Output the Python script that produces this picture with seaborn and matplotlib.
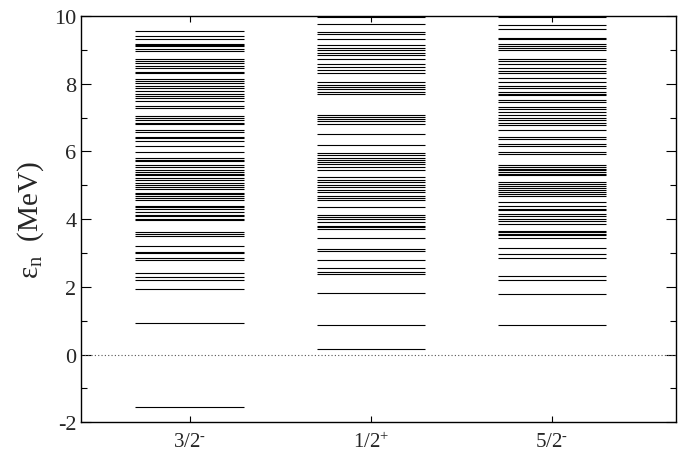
import matplotlib
matplotlib.use('Agg')
import matplotlib.pyplot as plt
import seaborn as sns
import numpy as np
import pandas as pd
from matplotlib.ticker import MultipleLocator

# level energies (MeV), one list per channel
levels_3m = [9.56, 9.41, 9.31, 9.18, 9.15, 9.12, 9.03, 8.97, 8.74, 8.67, 8.60, 8.52, 8.45,
             8.34, 8.31, 8.15, 8.08, 8.03, 7.93, 7.86, 7.78, 7.71, 7.64, 7.57, 7.49, 7.34,
             7.27, 7.04, 6.98, 6.93, 6.84, 6.80, 6.64, 6.56, 6.44, 6.40, 6.31, 6.15, 5.98,
             5.81, 5.76, 5.71, 5.59, 5.54, 5.46, 5.39, 5.34, 5.29, 5.21, 5.16, 5.06, 5.01,
             4.95, 4.90, 4.77, 4.73, 4.69, 4.62, 4.55, 4.40, 4.35, 4.29, 4.21, 4.13, 4.08,
             4.01, 3.96, 3.62, 3.56, 3.49, 3.21, 3.03, 2.99, 2.84, 2.79, 2.42, 2.28, 2.19,
             1.93, 0.93, -1.55]
levels_1p = [9.97, 9.75, 9.54, 9.46, 9.31, 9.13, 9.06, 8.99, 8.92, 8.85, 8.74, 8.57, 8.49,
             8.42, 8.32, 8.06, 7.96, 7.90, 7.83, 7.76, 7.69, 7.09, 7.01, 6.95, 6.90, 6.82,
             6.50, 6.20, 5.95, 5.88, 5.81, 5.75, 5.68, 5.62, 5.54, 5.44, 5.24, 5.17, 5.11,
             5.01, 4.95, 4.87, 4.80, 4.67, 4.62, 4.55, 4.35, 4.13, 4.06, 3.99, 3.91, 3.79,
             3.76, 3.71, 3.44, 3.12, 3.07, 2.80, 2.57, 2.45, 2.37, 1.81, 0.86, 0.16]
levels_5m = [9.97, 9.73, 9.61, 9.36, 9.31, 9.16, 9.11, 9.06, 9.01, 8.74, 8.67, 8.59, 8.47,
             8.39, 8.32, 8.16, 8.06, 7.93, 7.86, 7.75, 7.70, 7.66, 7.51, 7.46, 7.31, 7.24,
             7.16, 7.07, 6.98, 6.92, 6.85, 6.77, 6.62, 6.44, 6.37, 6.23, 6.15, 5.98, 5.93,
             5.59, 5.54, 5.49, 5.44, 5.39, 5.34, 5.29, 5.09, 5.04, 4.97, 4.92, 4.87, 4.80,
             4.73, 4.67, 4.50, 4.40, 4.30, 4.26, 4.16, 4.08, 4.01, 3.94, 3.86, 3.66, 3.61,
             3.57, 3.52, 3.44, 3.16, 2.97, 2.86, 2.32, 2.21, 1.78, 0.86]

channels = [r'3/2$^{\text{-}}$', r'1/2$^{+}$', r'5/2$^{\text{-}}$']
yticks = [-2, 0, 2, 4, 6, 8, 10]

df = pd.concat([
    pd.DataFrame({'channel': i + 1, 'E': lv})
    for i, lv in enumerate([levels_3m, levels_1p, levels_5m])
])

sns.set_style('ticks')
plt.rcParams['font.family'] = ['Liberation Serif', 'DejaVu Serif']
plt.rcParams['mathtext.fontset'] = 'custom'
plt.rcParams['mathtext.rm'] = 'Liberation Serif'
plt.rcParams['mathtext.it'] = 'Liberation Serif:italic'

fig = plt.figure(figsize=(6.82, 4.60), dpi=100)
ax = fig.add_axes([0.119, 0.080, 0.872, 0.883])

half = 0.30
ax.hlines(df['E'], df['channel'] - half, df['channel'] + half, color='black', lw=0.8)
ax.axhline(0, color='#555555', lw=0.8, ls=(0, (1, 2)))

ax.set_xlim(0.40, 3.685)
ax.set_ylim(-2, 10)
ax.set_xticks([1, 2, 3])
ax.set_xticklabels(channels, fontsize=15)
ax.set_yticks(yticks)
ax.set_yticklabels([str(t) for t in yticks], fontsize=16)
ax.yaxis.set_minor_locator(MultipleLocator(1))
ax.tick_params(which='both', direction='in', top=True, right=True, color='black')
ax.tick_params(which='major', length=7, width=0.8)
ax.tick_params(which='minor', length=4, width=0.8)
ax.tick_params(axis='x', length=4, pad=7)
ax.set_ylabel(r'$\mathregular{\varepsilon_n}$  (MeV)', fontsize=21, labelpad=6)
for s in ax.spines.values():
    s.set_color('black')
    s.set_linewidth(1.0)

fig.savefig('out.png', dpi=100)
